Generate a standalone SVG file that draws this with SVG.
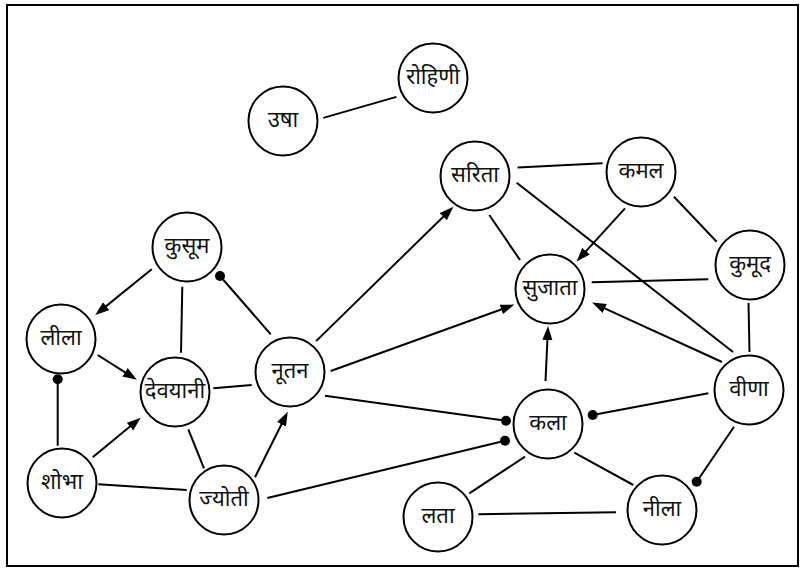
<svg xmlns="http://www.w3.org/2000/svg" width="802" height="569" viewBox="0 0 802 569">
<style>
.n circle{fill:#fff;stroke:#000;stroke-width:2}
.n text{font-family:"Noto Sans Devanagari","Lohit Devanagari","Noto Sans",sans-serif;font-size:22px;text-anchor:middle;dominant-baseline:central;fill:#111}
#edges line{stroke:#000;stroke-width:2;fill:none}
.a{marker-end:url(#arr)}
.d{marker-end:url(#dot)}
</style>
<defs>
<marker id="arr" markerUnits="userSpaceOnUse" markerWidth="15" markerHeight="11" refX="2" refY="5" orient="auto" viewBox="0 0 15 10">
<path d="M0,0 L14,5 L0,10 z" fill="#000"/>
</marker>
<marker id="dot" markerUnits="userSpaceOnUse" markerWidth="11" markerHeight="11" refX="5.5" refY="5.5" viewBox="0 0 11 11">
<circle cx="5.5" cy="5.5" r="5" fill="#000"/>
</marker>
</defs>
<rect x="0" y="0" width="802" height="569" fill="#fff"/>
<rect x="7" y="5" width="791" height="561" fill="none" stroke="#000" stroke-width="2"/>
<g id="edges">
<line x1="323.3" y1="117.9" x2="396.4" y2="96.9"/>
<line x1="517.6" y1="167.6" x2="602.6" y2="163.3"/>
<line x1="489.3" y1="215" x2="520" y2="260"/>
<line x1="516.7" y1="182.7" x2="733" y2="352"/>
<line class="a" x1="625" y1="208.3" x2="584.7" y2="252.6"/>
<line x1="674" y1="196.7" x2="716.7" y2="241.7"/>
<line x1="591.7" y1="282.3" x2="708.3" y2="279.3"/>
<line x1="748.5" y1="303" x2="749.5" y2="352"/>
<line class="a" x1="722" y1="362" x2="603" y2="307.6"/>
<line class="d" x1="708.3" y1="393.3" x2="592.7" y2="415"/>
<line class="d" x1="734" y1="426.7" x2="696.7" y2="481.7"/>
<line class="a" x1="545.5" y1="381" x2="547.5" y2="338"/>
<line x1="525" y1="456.7" x2="469.3" y2="493.3"/>
<line x1="574.3" y1="452.7" x2="633.3" y2="485"/>
<line x1="478.3" y1="514.3" x2="616" y2="512.3"/>
<line class="a" x1="316.1" y1="341.1" x2="444.8" y2="215.2"/>
<line class="a" x1="330.7" y1="371" x2="503.2" y2="308.7"/>
<line class="d" x1="325" y1="395.7" x2="506" y2="420.7"/>
<line class="d" x1="267.3" y1="498" x2="505" y2="440.7"/>
<line class="d" x1="270.7" y1="334.3" x2="220" y2="276"/>
<line x1="213.3" y1="388.3" x2="251.7" y2="385"/>
<line class="a" x1="255" y1="477.3" x2="282.4" y2="422.5"/>
<line x1="188.3" y1="429.3" x2="204" y2="468.3"/>
<line x1="98.3" y1="484.3" x2="186.7" y2="490"/>
<line class="a" x1="92.7" y1="457.3" x2="131.5" y2="425.3"/>
<line class="d" x1="57.7" y1="445.7" x2="57.7" y2="379.3"/>
<line class="a" x1="97.7" y1="355" x2="126.7" y2="373.4"/>
<line class="a" x1="151.7" y1="269.3" x2="104.6" y2="307.4"/>
<line x1="182.3" y1="286.7" x2="181" y2="352.7"/>
</g>
<g id="rohini" class="n"><circle cx="433" cy="78" r="34.5"/><text x="433" y="78">रोहिणी</text></g>
<g id="usha" class="n"><circle cx="283" cy="121" r="34.5"/><text x="283" y="121">उषा</text></g>
<g id="sarita" class="n"><circle cx="475" cy="176" r="34.5"/><text x="475" y="176">सरिता</text></g>
<g id="kamal" class="n"><circle cx="641" cy="172" r="34.5"/><text x="641" y="172">कमल</text></g>
<g id="kusum" class="n"><circle cx="187" cy="247" r="34.5"/><text x="187" y="247">कुसूम</text></g>
<g id="sujata" class="n"><circle cx="550" cy="289" r="34.5"/><text x="550" y="289">सुजाता</text></g>
<g id="kumud" class="n"><circle cx="750" cy="265" r="34.5"/><text x="750" y="265">कुमूद</text></g>
<g id="lila" class="n"><circle cx="61" cy="339" r="34.5"/><text x="61" y="339">लीला</text></g>
<g id="devayani" class="n"><circle cx="175" cy="392" r="34.5"/><text x="175" y="392">देवयानी</text></g>
<g id="nutan" class="n"><circle cx="290" cy="372" r="34.5"/><text x="290" y="372">नूतन</text></g>
<g id="veena" class="n"><circle cx="749" cy="390" r="34.5"/><text x="749" y="390">वीणा</text></g>
<g id="kala" class="n"><circle cx="548" cy="424" r="34.5"/><text x="548" y="424">कला</text></g>
<g id="shobha" class="n"><circle cx="62" cy="483" r="34.5"/><text x="62" y="483">शोभा</text></g>
<g id="jyoti" class="n"><circle cx="224" cy="500" r="34.5"/><text x="224" y="500">ज्योती</text></g>
<g id="lata" class="n"><circle cx="438" cy="517" r="34.5"/><text x="438" y="517">लता</text></g>
<g id="nila" class="n"><circle cx="662" cy="510" r="34.5"/><text x="662" y="510">नीला</text></g>
</svg>
